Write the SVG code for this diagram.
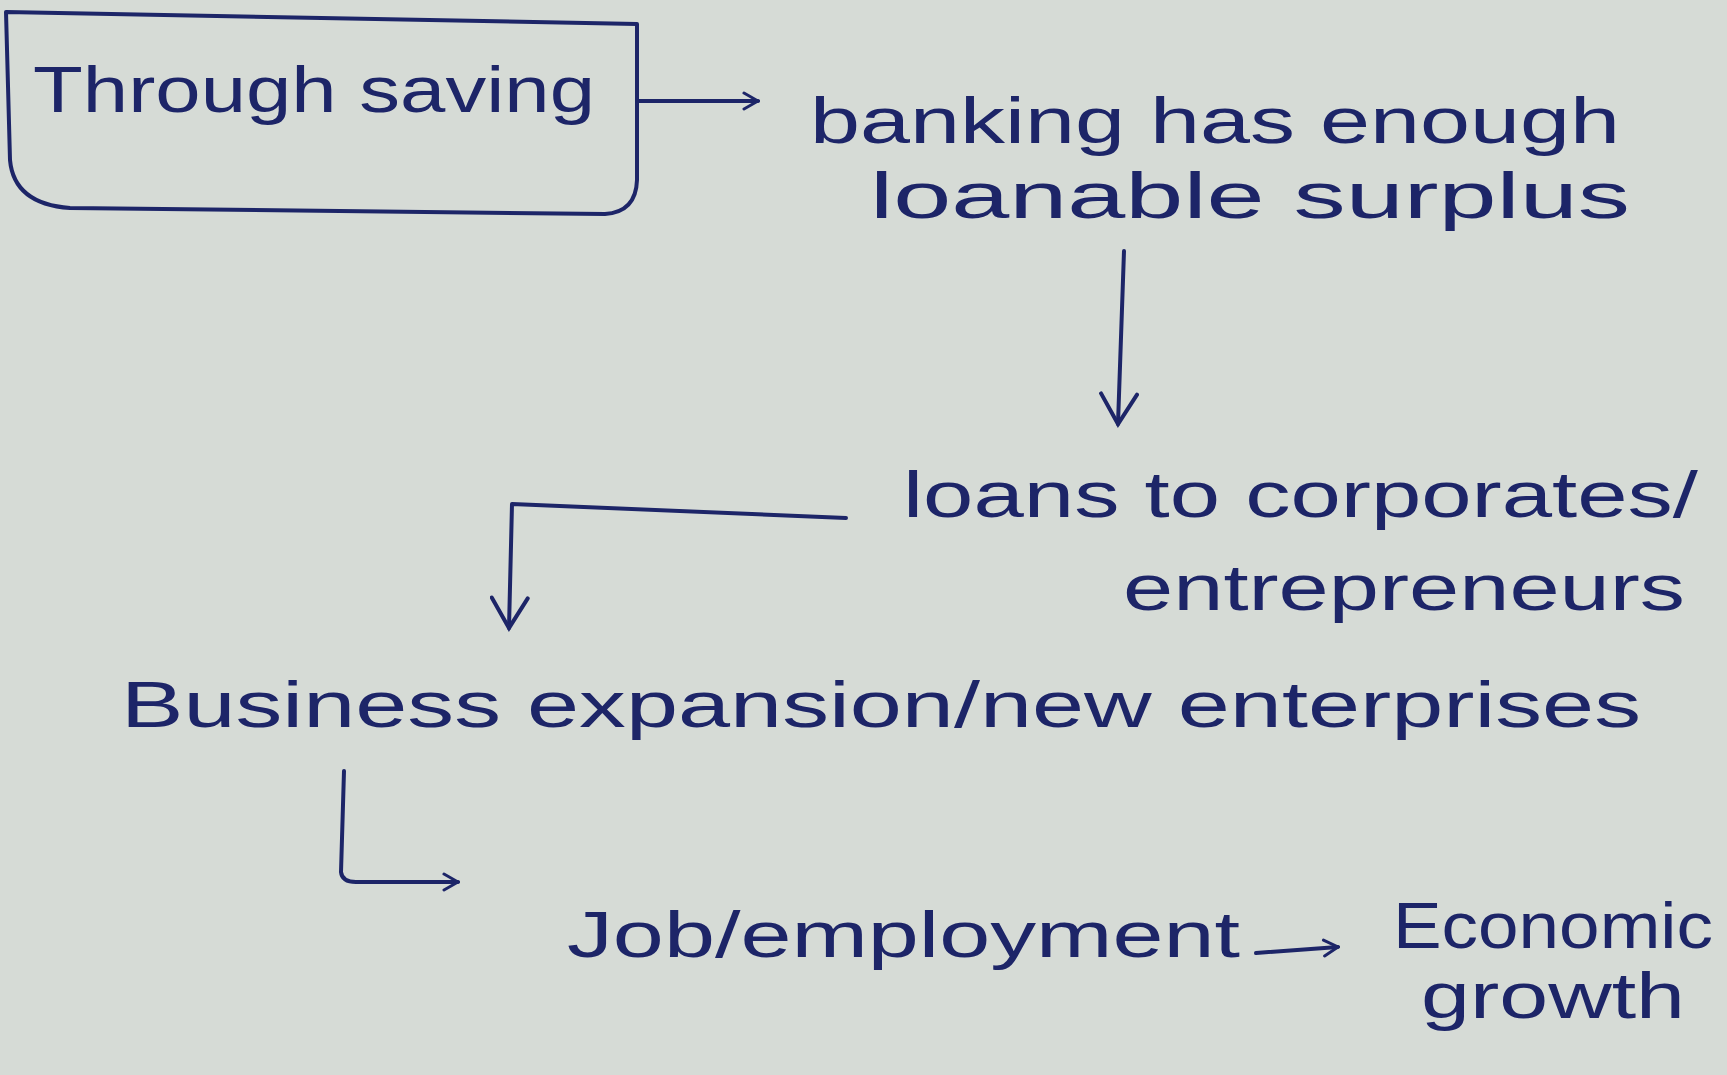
<svg xmlns="http://www.w3.org/2000/svg" width="1727" height="1075" viewBox="0 0 1727 1075">
<defs>
<style>
.t{font-family:"Liberation Sans","DejaVu Sans",sans-serif;font-size:64px;fill:#1d2568;}
.ln{fill:none;stroke:#1d2568;stroke-width:4;stroke-linecap:round;stroke-linejoin:round;}
</style>
<marker id="v" viewBox="0 0 20 20" refX="18" refY="10" markerWidth="20" markerHeight="20" markerUnits="userSpaceOnUse" orient="auto">
<polyline points="4,2 18,10 4,18" fill="none" stroke="#1d2568" stroke-width="3" stroke-linecap="round"/>
</marker>
<marker id="vb" viewBox="0 0 40 40" refX="36" refY="20" markerWidth="40" markerHeight="40" markerUnits="userSpaceOnUse" orient="auto">
<polyline points="6,2 36,20 6,38" fill="none" stroke="#1d2568" stroke-width="4" stroke-linecap="round"/>
</marker>
</defs>
<rect width="1727" height="1075" fill="#d6dbd6"/>
<g id="node-saving">
<path class="ln" d="M6,12 L637,24 L637,180 Q636,212 605,214 L70,208 Q14,204 10,160 Z"/>
<text class="t" x="33" y="112" textLength="562" lengthAdjust="spacingAndGlyphs">Through saving</text>
</g>
<g id="node-banking">
<text class="t" x="810" y="143" textLength="810" lengthAdjust="spacingAndGlyphs">banking has enough</text>
<text class="t" x="870" y="218" textLength="760" lengthAdjust="spacingAndGlyphs">loanable surplus</text>
</g>
<g id="node-loans">
<text class="t" x="903" y="517" textLength="795" lengthAdjust="spacingAndGlyphs">loans to corporates/</text>
<text class="t" x="1123" y="610" textLength="562" lengthAdjust="spacingAndGlyphs">entrepreneurs</text>
</g>
<g id="node-business">
<text class="t" x="121" y="727" textLength="1520" lengthAdjust="spacingAndGlyphs">Business expansion/new enterprises</text>
</g>
<g id="node-job">
<text class="t" x="567" y="957" textLength="673" lengthAdjust="spacingAndGlyphs">Job/employment</text>
</g>
<g id="node-growth">
<text class="t" x="1393" y="948" textLength="320" lengthAdjust="spacingAndGlyphs">Economic</text>
<text class="t" x="1421" y="1018" textLength="264" lengthAdjust="spacingAndGlyphs">growth</text>
</g>
<g id="connectors">
<path class="ln" d="M637,101 L758,101" marker-end="url(#v)"/>
<path class="ln" d="M1124,251 L1118,424" marker-end="url(#vb)"/>
<path class="ln" d="M846,518 L512,504 L509,628" marker-end="url(#vb)"/>
<path class="ln" d="M344,771 L341,872 Q342,882 356,882 L458,882" marker-end="url(#v)"/>
<path class="ln" d="M1256,953 L1338,947" marker-end="url(#v)"/>
</g>
</svg>
